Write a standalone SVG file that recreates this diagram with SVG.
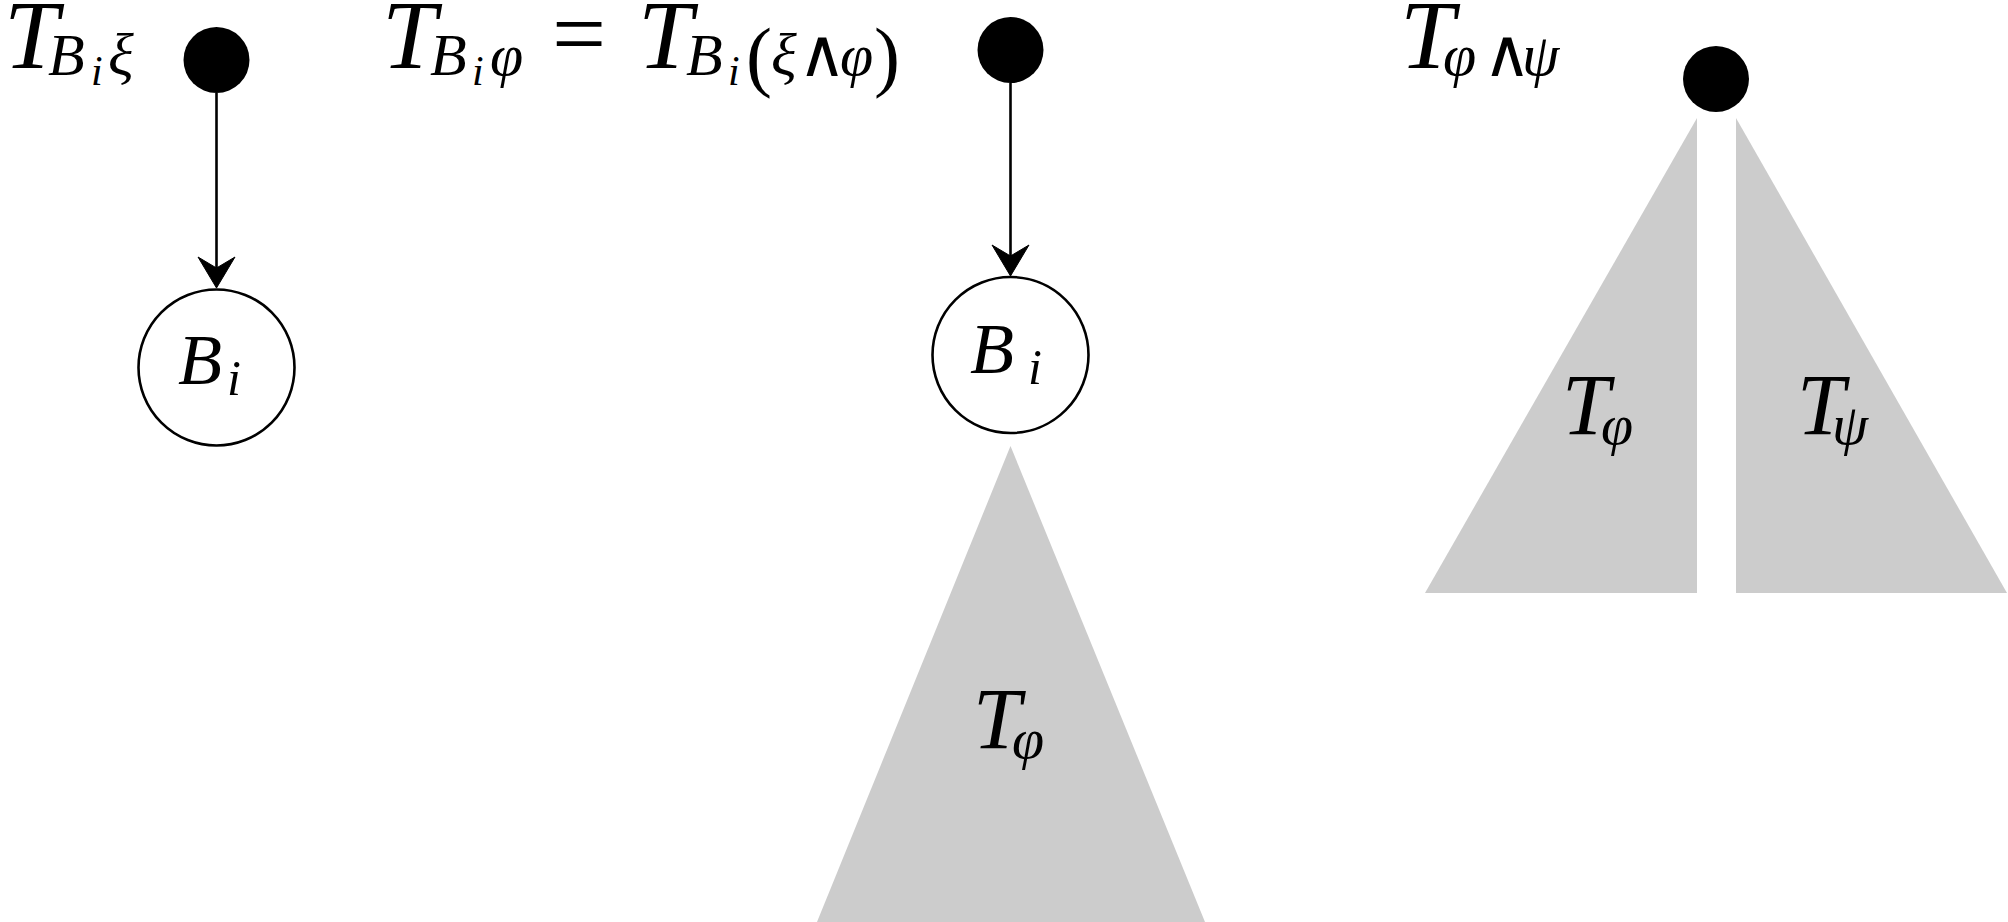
<svg xmlns="http://www.w3.org/2000/svg" width="2008" height="922" viewBox="0 0 2008 922">
<style>
.m{font-family:"Liberation Serif","DejaVu Serif",serif;font-style:italic;fill:#000}
.u{font-family:"Liberation Serif","DejaVu Serif",serif;font-style:normal}
.dj{font-family:"DejaVu Serif","Liberation Serif",serif;font-style:normal}
.dot{fill:#000}
.st{fill:#fff;stroke:#000;stroke-width:2.6}
.tri{fill:#cccccc;stroke:none}
.edge{stroke:#000;stroke-width:2.6;fill:none}
.head{fill:#000;stroke:#000;stroke-width:1;stroke-linejoin:miter}
</style>
<defs>
<path id="stealthHead" class="head" d="M0,0 L-18.5,-31 L0,-20 L18.5,-31 Z"/>
</defs>
<rect width="2008" height="922" fill="#fff"/>

<g id="tree1">
<g id="label1">
<text class="m" font-size="98"><tspan x="4" y="68">T</tspan><tspan x="48" y="75" font-size="60">B</tspan><tspan x="91" y="85" font-size="42">i</tspan><tspan x="108" y="75" font-size="60">ξ</tspan></text>
</g>
<g id="root1"><circle class="dot" cx="216.5" cy="60" r="33"/></g>
<g id="bi1">
<circle class="st" cx="216.5" cy="367.5" r="78"/>
<text class="m" font-size="72"><tspan x="178" y="384">B</tspan><tspan x="227" y="395" font-size="50">i</tspan></text>
</g>
</g>

<g id="tree2">
<g id="label2">
<text class="m" font-size="98"><tspan x="382" y="68">T</tspan><tspan x="430" y="75" font-size="60">B</tspan><tspan x="472" y="85" font-size="42">i</tspan><tspan x="490" y="75" font-size="60">φ</tspan><tspan class="u" x="552" y="66" font-size="96">=</tspan><tspan x="638" y="68">T</tspan><tspan x="686" y="75" font-size="60">B</tspan><tspan x="728" y="85" font-size="42">i</tspan><tspan class="u" x="746" y="82" font-size="78">(</tspan><tspan x="771" y="75" font-size="60">ξ</tspan><tspan class="dj" x="798" y="76" font-size="66">∧</tspan><tspan x="840" y="75" font-size="60">φ</tspan><tspan class="u" x="874" y="82" font-size="78">)</tspan></text>
</g>
<g id="root2"><circle class="dot" cx="1010.5" cy="50" r="33"/></g>
<g id="bi2">
<circle class="st" cx="1010.5" cy="355" r="78"/>
<text class="m" font-size="72"><tspan x="970" y="373">B</tspan><tspan x="1028" y="384" font-size="50">i</tspan></text>
</g>
<g id="subtree2">
<polygon class="tri" points="1010.5,446 1205,922 817,922"/>
<text class="m" font-size="86"><tspan x="973" y="748">T</tspan><tspan x="1012" y="758" font-size="58">φ</tspan></text>
</g>
</g>

<g id="tree3">
<g id="label3">
<text class="m" font-size="98"><tspan x="1400" y="68">T</tspan><tspan x="1443" y="75" font-size="60">φ</tspan><tspan class="dj" x="1483" y="76" font-size="66">∧</tspan><tspan x="1522" y="75" font-size="60">ψ</tspan></text>
</g>
<g id="root3"><circle class="dot" cx="1716" cy="79" r="33"/></g>
<g id="subtree3a">
<polygon class="tri" points="1697,118 1697,593 1425,593"/>
<text class="m" font-size="86"><tspan x="1562" y="434">T</tspan><tspan x="1601" y="444" font-size="58">φ</tspan></text>
</g>
<g id="subtree3b">
<polygon class="tri" points="1736,118 2007,593 1736,593"/>
<text class="m" font-size="86"><tspan x="1797" y="434">T</tspan><tspan x="1832" y="444" font-size="58">ψ</tspan></text>
</g>
</g>

<g id="connectors">
<line class="edge" x1="216.5" y1="93" x2="216.5" y2="270"/>
<use href="#stealthHead" x="216.5" y="288"/>
<line class="edge" x1="1010.5" y1="83" x2="1010.5" y2="258"/>
<use href="#stealthHead" x="1010.5" y="276"/>
</g>
</svg>
